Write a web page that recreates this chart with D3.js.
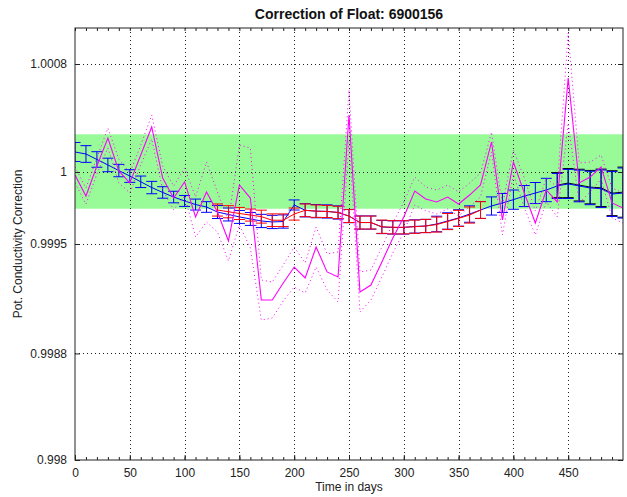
<!DOCTYPE html>
<html>
<head>
<meta charset="utf-8">
<script src="https://cdn.jsdelivr.net/npm/d3@7"></script>
<style>
  body { margin: 0; background: #fff; }
  svg { display: block; font-family: "Liberation Sans", Arial, sans-serif; }
</style>
</head>
<body>
<script>
//Profile times (days) shared by all series
var days = [0, 10, 20, 30, 40, 50, 60, 70, 80, 90, 100, 110, 120, 130, 140, 150, 160, 170, 180, 190,
            200, 210, 220, 230, 240, 250, 260, 270, 280, 290, 300, 310, 320, 330, 340, 350, 360, 370, 380, 390,
            400, 410, 420, 430, 440, 450, 460, 470, 480, 490, 500];

//Profile correction (magenta) and its error (dotted)
var profRatio = [0.999979, 0.999833, 1.000042, 1.000236, 1.000007, 0.999924, 1.000118, 1.000313, 0.999958, 0.999819,
                 0.999931, 0.999688, 0.999861, 0.999722, 0.999521, 0.999910, 0.999819, 0.999111, 0.999111, 0.999229,
                 0.999340, 0.999264, 0.999479, 0.999306, 0.999271, 1.000396, 0.999167, 0.999215, 0.999375, 0.999542,
                 0.999688, 0.999868, 0.999813, 0.999792, 0.999826, 0.999778, 0.999840, 0.999910, 1.000208, 0.999667,
                 1.000069, 0.999854, 0.999646, 0.999875, 0.999792, 1.000653, 0.999924, 0.999965, 1.000035, 0.999785,
                 0.999750];
var profErr = [0.000056, 0.000056, 0.000056, 0.000069, 0.000083, 0.000069, 0.000069, 0.000083, 0.000083, 0.000083,
               0.000097, 0.000139, 0.000208, 0.000139, 0.000139, 0.000278, 0.000347, 0.000139, 0.000125, 0.000125,
               0.000139, 0.000104, 0.000139, 0.000125, 0.000174, 0.000174, 0.000139, 0.000104, 0.000104, 0.000104,
               0.000104, 0.000097, 0.000083, 0.000083, 0.000083, 0.000083, 0.000083, 0.000083, 0.000069, 0.000104,
               0.000083, 0.000104, 0.000083, 0.000083, 0.000104, 0.000313, 0.000139, 0.000104, 0.000083, 0.000104,
               0.000104];

//Blue fit with error bars
var blueFit = [1.000139, 1.000125, 1.000087, 1.000049, 1.000010, 0.999972, 0.999932, 0.999892, 0.999858, 0.999826,
               0.999799, 0.999774, 0.999757, 0.999722, 0.999705, 0.999688, 0.999674, 0.999660, 0.999653, 0.999656,
               0.999771, 0.999734, 0.999728, 0.999726, 0.999719, 0.999694, 0.999649, 0.999649, 0.999618, 0.999615,
               0.999615, 0.999622, 0.999625, 0.999639, 0.999660, 0.999681, 0.999708, 0.999736, 0.999764, 0.999785,
               0.999808, 0.999833, 0.999854, 0.999875, 0.999903, 0.999917, 0.999903, 0.999889, 0.999884, 0.999847,
               0.999854];
var blueErr = [0.000066, 0.000058, 0.000054, 0.000047, 0.000043, 0.000044, 0.000040, 0.000043, 0.000040, 0.000040,
               0.000038, 0.000038, 0.000037, 0.000045, 0.000045, 0.000045, 0.000045, 0.000046, 0.000046, 0.000046,
               0.000035, 0.000046, 0.000046, 0.000046, 0.000046, 0.000046, 0.000046, 0.000046, 0.000046, 0.000046,
               0.000046, 0.000046, 0.000046, 0.000054, 0.000057, 0.000057, 0.000057, 0.000059, 0.000063, 0.000066,
               0.000067, 0.000073, 0.000073, 0.000081, 0.000087, 0.000101, 0.000110, 0.000116, 0.000130, 0.000156,
               0.000174];

//Red fit with error bars (middle section)
var redDays = [130, 140, 150, 160, 170, 180, 190, 200, 210, 220, 230, 240, 250, 260, 270, 280, 290, 300, 310, 320,
               330, 340, 350, 360, 370];
var redFit = [0.999736, 0.999724, 0.999712, 0.999701, 0.999690, 0.999665, 0.999665, 0.999708, 0.999734, 0.999728,
              0.999726, 0.999719, 0.999694, 0.999649, 0.999649, 0.999620, 0.999616, 0.999616, 0.999620, 0.999625,
              0.999635, 0.999656, 0.999678, 0.999701, 0.999736];
var redErr = [0.000042, 0.000042, 0.000042, 0.000042, 0.000045, 0.000044, 0.000044, 0.000042, 0.000044, 0.000043,
              0.000042, 0.000043, 0.000045, 0.000045, 0.000045, 0.000046, 0.000046, 0.000046, 0.000046, 0.000046,
              0.000052, 0.000056, 0.000056, 0.000056, 0.000058];

//Black error bars (end section)
var blackDays = [440, 450, 460, 470, 480, 490, 500];
var blackFit = [0.999909, 0.999923, 0.999909, 0.999895, 0.999890, 0.999853, 0.999860];
var blackErr = [0.000087, 0.000101, 0.000110, 0.000116, 0.000130, 0.000156, 0.000174];

//Green tolerance band
var bandLow = 0.999745, bandHigh = 1.000262;

//Axis ticks
var xTicks = [0, 50, 100, 150, 200, 250, 300, 350, 400, 450];
var yTicks = [0.998, 0.99874, 0.9995, 1, 1.00075];
var yTickLabels = ["0.998", "0.9988", "0.9995", "1", "1.0008"];

var width = 627, height = 497;
var margin = {top: 28, right: 4, bottom: 37, left: 75};
var w = width - margin.left - margin.right,
    h = height - margin.top - margin.bottom;

var svg = d3.select("body").append("svg")
    .attr("width", width)
    .attr("height", height);

var x = d3.scaleLinear().domain([0, 500]).range([0, w]);
var y = d3.scaleLinear().domain([0.998, 1.001]).range([h, 0]);

var g = svg.append("g")
    .attr("transform", "translate(" + margin.left + "," + margin.top + ")");

g.append("clipPath").attr("id", "clip")
  .append("rect").attr("width", w).attr("height", h);

//Band
g.append("rect")
    .attr("x", 0).attr("width", w)
    .attr("y", y(bandHigh))
    .attr("height", y(bandLow) - y(bandHigh))
    .attr("fill", "#98fb98");

//Grid lines
var grid = g.append("g").attr("stroke", "#222").attr("stroke-dasharray", "1,3").attr("stroke-width", 1);
grid.selectAll(".vg").data(xTicks.slice(1)).enter().append("line")
    .attr("x1", function(d) { return Math.round(x(d)) + 0.5; })
    .attr("x2", function(d) { return Math.round(x(d)) + 0.5; })
    .attr("y1", 0).attr("y2", h);
grid.selectAll(".hg").data(yTicks.slice(1)).enter().append("line")
    .attr("y1", function(d) { return Math.round(y(d)) + 0.5; })
    .attr("y2", function(d) { return Math.round(y(d)) + 0.5; })
    .attr("x1", 0).attr("x2", w);

var plot = g.append("g").attr("clip-path", "url(#clip)");

var line = d3.line()
    .x(function(d) { return x(d[0]); })
    .y(function(d) { return y(d[1]); });

//Error bars with connecting line
function errorbars(xs, ys, es, color) {
  var data = d3.zip(xs, ys, es);
  var eg = plot.append("g").attr("stroke", color).attr("fill", "none").attr("stroke-width", 1);
  eg.append("path").attr("d", line(data));
  var bars = eg.selectAll(".bar").data(data).enter().append("g");
  bars.append("line")
      .attr("x1", function(d) { return x(d[0]); }).attr("x2", function(d) { return x(d[0]); })
      .attr("y1", function(d) { return y(d[1] + d[2]); }).attr("y2", function(d) { return y(d[1] - d[2]); });
  [1, -1].forEach(function(s) {
    bars.append("line")
        .attr("x1", function(d) { return x(d[0]) - 5.5; }).attr("x2", function(d) { return x(d[0]) + 5.5; })
        .attr("y1", function(d) { return y(d[1] + s * d[2]); }).attr("y2", function(d) { return y(d[1] + s * d[2]); });
  });
}

errorbars(blackDays, blackFit, blackErr, "#000");
errorbars(days, blueFit, blueErr, "#0000ff");
errorbars(redDays, redFit, redErr, "#ff0000");

//Profile correction with error envelope
var upper = days.map(function(d, i) { return [d, profRatio[i] + profErr[i]]; });
var lower = days.map(function(d, i) { return [d, profRatio[i] - profErr[i]]; });
[upper, lower].forEach(function(s) {
  plot.append("path").attr("d", line(s))
      .attr("fill", "none").attr("stroke", "#ff00ff").attr("stroke-width", 1)
      .attr("stroke-dasharray", "1,3");
});
plot.append("path").attr("d", line(d3.zip(days, profRatio)))
    .attr("fill", "none").attr("stroke", "#ff00ff").attr("stroke-width", 1.1);

//Axes (ticks inside, box)
var minorX = d3.range(0, 500, 10);
function styleAxis(sel) {
  sel.select(".domain").remove();
  sel.selectAll(".tick line").attr("stroke", "#222");
  sel.selectAll("text").attr("fill", "#222").style("font-size", "12px")
     .style("font-family", "'Liberation Sans', Arial, sans-serif");
}
g.append("g").attr("transform", "translate(0," + h + ")")
    .call(d3.axisBottom(x).tickValues(minorX).tickSize(-3).tickFormat(""))
    .call(styleAxis);
g.append("g")
    .call(d3.axisTop(x).tickValues(minorX).tickSize(-3).tickFormat(""))
    .call(styleAxis);
g.append("g").attr("transform", "translate(0," + h + ")")
    .call(d3.axisBottom(x).tickValues(xTicks).tickSize(-5).tickPadding(8))
    .call(styleAxis);
g.append("g")
    .call(d3.axisLeft(y).tickValues(yTicks).tickSize(-5).tickPadding(8)
      .tickFormat(function(d, i) { return yTickLabels[i]; }))
    .call(styleAxis);
g.append("g").attr("transform", "translate(" + w + ",0)")
    .call(d3.axisRight(y).tickValues(yTicks).tickSize(-5).tickFormat(""))
    .call(styleAxis);

g.append("rect").attr("width", w).attr("height", h)
    .attr("fill", "none").attr("stroke", "#222").attr("stroke-width", 1);

//Titles
svg.append("text")
    .attr("x", margin.left + w / 2).attr("y", 19)
    .attr("text-anchor", "middle")
    .style("font-size", "14px").style("font-weight", "bold").attr("fill", "#111")
    .text("Correction of Float: 6900156");

svg.append("text")
    .attr("x", margin.left + w / 2).attr("y", 491)
    .attr("text-anchor", "middle")
    .style("font-size", "12px").attr("fill", "#222")
    .text("Time in days");

svg.append("text")
    .attr("transform", "translate(22," + (margin.top + h / 2) + ") rotate(-90)")
    .attr("text-anchor", "middle")
    .style("font-size", "12px").attr("fill", "#222")
    .text("Pot. Conductivity Correction");
</script>
</body>
</html>
